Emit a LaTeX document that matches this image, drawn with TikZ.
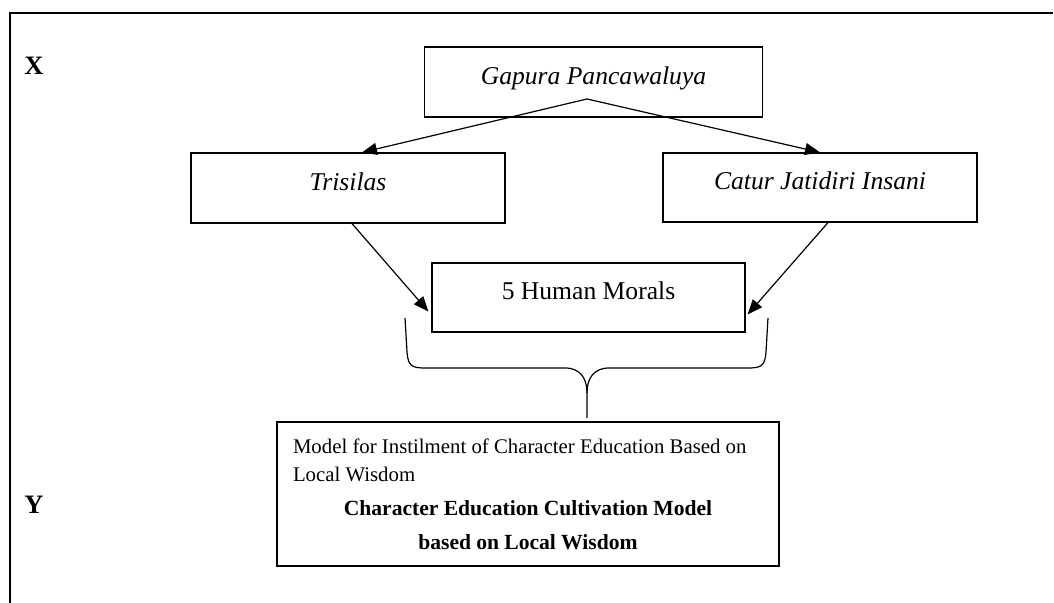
\documentclass[tikz,border=0pt]{standalone}
\usepackage{fontspec}
\setmainfont{Liberation Serif}
\usetikzlibrary{arrows.meta,positioning,calc}

\newcommand{\modelfont}{\fontsize{10.4}{14}\selectfont\spaceskip=2.6pt plus 1pt minus 0.5pt\relax}

\tikzset{
  framebox/.style={draw,line width=0.6pt,inner sep=0pt,text depth=6.5pt,
    font=\fontsize{12.8}{15}\selectfont},
  link/.style={line width=0.6pt,-{Triangle[length=7.5pt,width=6pt]}},
  sidelabel/.style={font=\fontsize{13.3}{16}\selectfont\bfseries,inner sep=0pt},
}

\begin{document}
\begin{tikzpicture}[x=0.5pt,y=0.5pt]
  \useasboundingbox (0,0) rectangle (1054,-603);
  % outer frame, open at right and bottom
  \draw[line width=1pt] (10,-603)--(10,-13)--(1053,-13);
  \node[sidelabel] (xlab) at (34,-66) {X};
  \node[sidelabel] (ylab) at (34,-505) {Y};

  % boxes
  \node[framebox,minimum width=169pt,minimum height=35pt] (gapura) at (593.5,-82) {\textit{Gapura Pancawaluya}};
  \node[framebox,minimum width=157pt,minimum height=35pt] (trisilas) at (348,-188) {\textit{Trisilas}};
  \node[framebox,minimum width=157pt,minimum height=34.5pt] (catur) at (820,-187.5) {\textit{Catur Jatidiri Insani}};
  \node[framebox,minimum width=156.5pt,minimum height=34.5pt] (morals) at (588.5,-297.5) {5 Human Morals};

  % arrows
  \coordinate (gsrc) at (587,-99);
  \draw[link] (gsrc) -- ($(trisilas.north)+(14,0)$);
  \draw[link] (gsrc) -- (catur.north);
  \draw[link] ($(trisilas.south)+(4,0)$) -- ($(morals.west)+(-3,-14)$);
  \draw[link] ($(catur.south)+(8,0)$) -- ($(morals.east)+(2,-17)$);

  % brace
  \coordinate (bracetip) at (587,-418);
  \draw[line width=0.6pt] (405,-318) -- (407,-352) .. controls (408,-366) and (412,-368) .. (425,-368)
    -- (565,-368) .. controls (580,-368) and (587,-378) .. (587,-393) -- (bracetip);
  \draw[line width=0.6pt] (768,-318) -- (766,-352) .. controls (765,-366) and (761,-368) .. (748,-368)
    -- (609,-368) .. controls (594,-368) and (587,-378) .. (587,-393);

  % result box
  \node[draw,line width=0.6pt,minimum width=251pt,minimum height=72pt,inner xsep=8pt,inner ysep=0pt,
    align=left,font=\modelfont] (model) at (528,-494)
    {Model for Instilment of Character Education Based on\\Local Wisdom\\[3pt]
     \makebox[235pt][c]{\bfseries\fontsize{10.8}{14}\selectfont Character Education Cultivation Model}\\[3pt]
     \makebox[235pt][c]{\bfseries\fontsize{10.8}{14}\selectfont based on Local Wisdom}};
\end{tikzpicture}
\end{document}
